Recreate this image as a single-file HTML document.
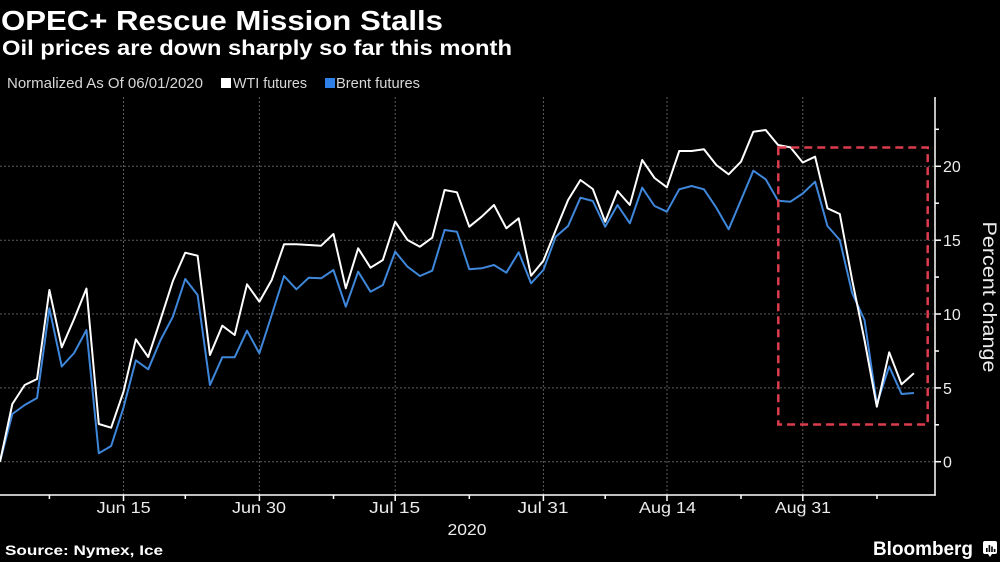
<!DOCTYPE html>
<html>
<head>
<meta charset="utf-8">
<style>
  html, body { margin:0; padding:0; background:#000; }
  svg { display:block; }
  text { font-family: "Liberation Sans", sans-serif; }
</style>
</head>
<body>
<svg width="1000" height="562" viewBox="0 0 1000 562" xmlns="http://www.w3.org/2000/svg">
  <rect x="0" y="0" width="1000" height="562" fill="#000"/>

  <!-- Title -->
  <text x="1" y="30" font-size="28" font-weight="bold" fill="#fff" textLength="442" lengthAdjust="spacingAndGlyphs">OPEC+ Rescue Mission Stalls</text>
  <text x="2" y="55" font-size="21" font-weight="bold" fill="#fff" textLength="510" lengthAdjust="spacingAndGlyphs">Oil prices are down sharply so far this month</text>

  <!-- Legend -->
  <text x="7" y="88" font-size="15" fill="#d8d8d8" textLength="196" lengthAdjust="spacingAndGlyphs">Normalized As Of 06/01/2020</text>
  <rect x="221" y="78" width="10" height="10" fill="#fff"/>
  <text x="233" y="88" font-size="15" fill="#d8d8d8" textLength="74" lengthAdjust="spacingAndGlyphs">WTI futures</text>
  <rect x="325" y="78" width="10" height="10" fill="#2f80e6"/>
  <text x="336" y="88" font-size="15" fill="#d8d8d8" textLength="84" lengthAdjust="spacingAndGlyphs">Brent futures</text>

  <!-- Grid -->
  <g stroke="#5c5c5c" stroke-width="1" stroke-dasharray="2,2" fill="none">
    <line x1="0" y1="166.3" x2="935" y2="166.3"/>
    <line x1="0" y1="240.2" x2="935" y2="240.2"/>
    <line x1="0" y1="314" x2="935" y2="314"/>
    <line x1="0" y1="387.9" x2="935" y2="387.9"/>
    <line x1="0" y1="461.7" x2="935" y2="461.7"/>
    <line x1="123.5" y1="97" x2="123.5" y2="495"/>
    <line x1="259.4" y1="97" x2="259.4" y2="495"/>
    <line x1="395.2" y1="97" x2="395.2" y2="495"/>
    <line x1="543.4" y1="97" x2="543.4" y2="495"/>
    <line x1="667" y1="97" x2="667" y2="495"/>
    <line x1="802.8" y1="97" x2="802.8" y2="495"/>
  </g>

  <!-- Axes -->
  <g stroke="#fff" stroke-width="1.5" fill="none">
    <line x1="0" y1="495" x2="935.7" y2="495"/>
    <line x1="935" y1="97" x2="935" y2="495.7"/>
    <!-- y major ticks -->
    <line x1="935" y1="166.3" x2="941" y2="166.3"/>
    <line x1="935" y1="240.2" x2="941" y2="240.2"/>
    <line x1="935" y1="314" x2="941" y2="314"/>
    <line x1="935" y1="387.9" x2="941" y2="387.9"/>
    <line x1="935" y1="461.7" x2="941" y2="461.7"/>
    <!-- y minor ticks -->
    <line x1="935" y1="129.3" x2="939" y2="129.3"/>
    <line x1="935" y1="203.2" x2="939" y2="203.2"/>
    <line x1="935" y1="277.1" x2="939" y2="277.1"/>
    <line x1="935" y1="351" x2="939" y2="351"/>
    <line x1="935" y1="424.8" x2="939" y2="424.8"/>
    <!-- x major ticks -->
    <line x1="123.5" y1="495" x2="123.5" y2="501"/>
    <line x1="259.4" y1="495" x2="259.4" y2="501"/>
    <line x1="395.2" y1="495" x2="395.2" y2="501"/>
    <line x1="543.4" y1="495" x2="543.4" y2="501"/>
    <line x1="667" y1="495" x2="667" y2="501"/>
    <line x1="802.8" y1="495" x2="802.8" y2="501"/>
    <!-- x minor ticks -->
    <line x1="49.4" y1="495" x2="49.4" y2="499"/>
    <line x1="185.3" y1="495" x2="185.3" y2="499"/>
    <line x1="333.5" y1="495" x2="333.5" y2="499"/>
    <line x1="469.3" y1="495" x2="469.3" y2="499"/>
    <line x1="605.2" y1="495" x2="605.2" y2="499"/>
    <line x1="741" y1="495" x2="741" y2="499"/>
    <line x1="877" y1="495" x2="877" y2="499"/>
  </g>

  <!-- Y tick labels -->
  <g font-size="16" fill="#ececec">
    <text x="943" y="172">20</text>
    <text x="943" y="246">15</text>
    <text x="943" y="320">10</text>
    <text x="943" y="394">5</text>
    <text x="943" y="467.5">0</text>
  </g>
  <text transform="translate(983,297) rotate(90)" text-anchor="middle" font-size="19" fill="#ececec" textLength="151" lengthAdjust="spacingAndGlyphs">Percent change</text>

  <!-- X tick labels -->
  <g font-size="16" fill="#ececec" text-anchor="middle">
    <text x="123.7" y="513" textLength="54" lengthAdjust="spacingAndGlyphs">Jun 15</text>
    <text x="259" y="513" textLength="54" lengthAdjust="spacingAndGlyphs">Jun 30</text>
    <text x="394.7" y="513" textLength="51" lengthAdjust="spacingAndGlyphs">Jul 15</text>
    <text x="543" y="513" textLength="51" lengthAdjust="spacingAndGlyphs">Jul 31</text>
    <text x="667.5" y="513" textLength="57" lengthAdjust="spacingAndGlyphs">Aug 14</text>
    <text x="803" y="513" textLength="56" lengthAdjust="spacingAndGlyphs">Aug 31</text>
    <text x="467" y="535" textLength="39" lengthAdjust="spacingAndGlyphs">2020</text>
  </g>

  <!-- Brent series -->
  <polyline fill="none" stroke="#3f87da" stroke-width="2" stroke-linejoin="round" points="
    0,461.7 12.35,414 24.7,405 37.05,398 49.4,308.3 61.75,366.5 74.1,353 86.45,330 98.8,453.3 111.15,446
    123.5,407.5 135.85,360.3 148.2,369.3 160.55,340 172.9,316.7 185.25,279 197.6,295 209.95,385 222.3,357.3 234.65,357.3
    247,330.7 259.35,353.3 271.7,315 284.05,276 296.4,289.3 308.75,277.7 321.1,278.3 333.45,270 345.8,306.7 358.15,271.7
    370.5,291.7 382.85,285 395.2,251.7 407.55,266.7 419.9,276 432.25,270.7 444.6,230 456.95,231.7 469.3,269.3 481.65,268.3
    494,265 506.35,272.7 518.7,252.3 531.05,283.3 543.4,270 555.75,236.7 568.1,226 580.45,197.7 592.8,201 605.15,226.7
    617.5,205 629.85,223.3 642.2,187.7 654.55,206 666.9,211.7 679.25,189.3 691.6,186 703.95,189.3 716.3,207.7 728.65,229.3
    741,200 753.35,170.7 765.7,179.3 778.05,200.7 790.4,201.7 802.75,193.5 815.1,181.7 827.45,226 839.8,240 852.15,293
    864.5,320 876.85,404 889.2,366.5 901.55,394 913.9,393"/>

  <!-- WTI series -->
  <polyline fill="none" stroke="#ffffff" stroke-width="2" stroke-linejoin="round" points="
    0,461.7 12.35,404 24.7,385 37.05,379 49.4,290 61.75,347.3 74.1,319 86.45,288.5 98.8,424 111.15,427.7
    123.5,391.7 135.85,339.3 148.2,357 160.55,319.5 172.9,281 185.25,252.7 197.6,255.7 209.95,355 222.3,325.7 234.65,335
    247,284.3 259.35,301.7 271.7,280 284.05,244.3 296.4,244.3 308.75,245 321.1,245.7 333.45,234 345.8,288.3 358.15,248.3
    370.5,267.7 382.85,260 395.2,221.7 407.55,240 419.9,246.7 432.25,237.7 444.6,190 456.95,192.3 469.3,226.7 481.65,216.7
    494,205 506.35,228.3 518.7,218.3 531.05,275.7 543.4,260.7 555.75,230 568.1,200 580.45,180 592.8,189 605.15,221.7
    617.5,191 629.85,205 642.2,160 654.55,178 666.9,187.3 679.25,151 691.6,151 703.95,149.3 716.3,165 728.65,174.3
    741,161.7 753.35,131.7 765.7,130 778.05,145 790.4,147.3 802.75,162.5 815.1,156.7 827.45,208.3 839.8,214 852.15,280
    864.5,340 876.85,406.7 889.2,352.3 901.55,384.3 913.9,373.3"/>

  <!-- Red dashed box -->
  <rect x="778.3" y="147.5" width="149.4" height="277" fill="none" stroke="#dc3c4e" stroke-width="2.5" stroke-dasharray="8,5"/>

  <!-- Footer -->
  <text x="5" y="555" font-size="14" font-weight="bold" fill="#fff" textLength="158" lengthAdjust="spacingAndGlyphs">Source: Nymex, Ice</text>
  <text x="873" y="555" font-size="19" font-weight="bold" fill="#fff" textLength="100" lengthAdjust="spacingAndGlyphs">Bloomberg</text>
  <!-- Bloomberg icon -->
  <g>
    <rect x="983" y="541" width="14" height="13" rx="2" fill="#fff"/>
    <polygon points="988,554 992,554 990,557" fill="#fff"/>
    <rect x="986" y="548" width="1.6" height="4" fill="#000"/>
    <rect x="988.6" y="545" width="1.6" height="7" fill="#000"/>
    <rect x="991.2" y="546.5" width="1.6" height="5.5" fill="#000"/>
    <rect x="993.8" y="549" width="1.6" height="3" fill="#000"/>
  </g>
</svg>
</body>
</html>
